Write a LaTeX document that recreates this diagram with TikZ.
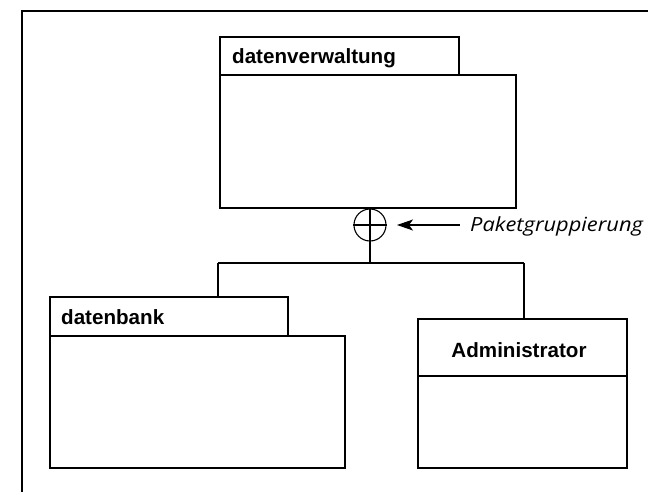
\documentclass[tikz,border=0pt]{standalone}
\usepackage{fontspec}
\setmainfont{Liberation Sans}
\newfontfamily\notefont[FakeStretch=1.12]{Open Sans}
\usetikzlibrary{arrows.meta}
\begin{document}
\begin{tikzpicture}[x=1pt,y=-1pt,
  ln/.style={draw=black,line width=1.1pt},
  pkgbox/.style={ln,fill=white},
  lbl/.style={font=\fontsize{20.6}{24}\selectfont\bfseries,inner sep=0pt},
  note/.style={font=\notefont\itshape\fontsize{19.5}{22}\selectfont,inner sep=0pt}]
\useasboundingbox (0,0) rectangle (648,492);
% outer frame
\draw[ln] (648,11) -- (22,11) -- (22,492);
% datenverwaltung
\draw[pkgbox] (220,37) rectangle (459,75);
\draw[pkgbox] (220,75) rectangle (516,208);
\node[lbl,anchor=base west] (dv) at (232,64) {datenverwaltung};
% circle
\node[ln,circle,minimum size=32pt,inner sep=0pt] (c) at (370,225) {};
\draw[ln] (c.north) -- (c.south);
\draw[ln] (c.west) -- (c.east);
% note
\node[note,anchor=base west] (n) at (470,231) {Paketgruppierung};
\coordinate (at) at (460,225);
\coordinate (tip) at (397,225);
\draw[ln,-{Stealth[length=16pt,width=11pt,inset=4pt]}] (at) -- (tip);
% tree
\coordinate (j) at (370,263);
\coordinate (jl) at (218,263);
\coordinate (jr) at (524,263);
\draw[ln] (c.south) -- (j);
\draw[ln] (jl) -- (jr);
% datenbank
\draw[pkgbox] (50,297) rectangle (288,336);
\draw[pkgbox] (50,336) rectangle (345,468);
\node[lbl,anchor=base west] (db) at (61,324) {datenbank};
\draw[ln] (jl) -- (218,297);
% Administrator
\draw[pkgbox] (418,319) rectangle (627,468);
\draw[ln] (418,376) -- (627,376);
\node[lbl,anchor=base] (adm) at (519,357) {Administrator};
\draw[ln] (jr) -- (524,319);
\end{tikzpicture}
\end{document}
